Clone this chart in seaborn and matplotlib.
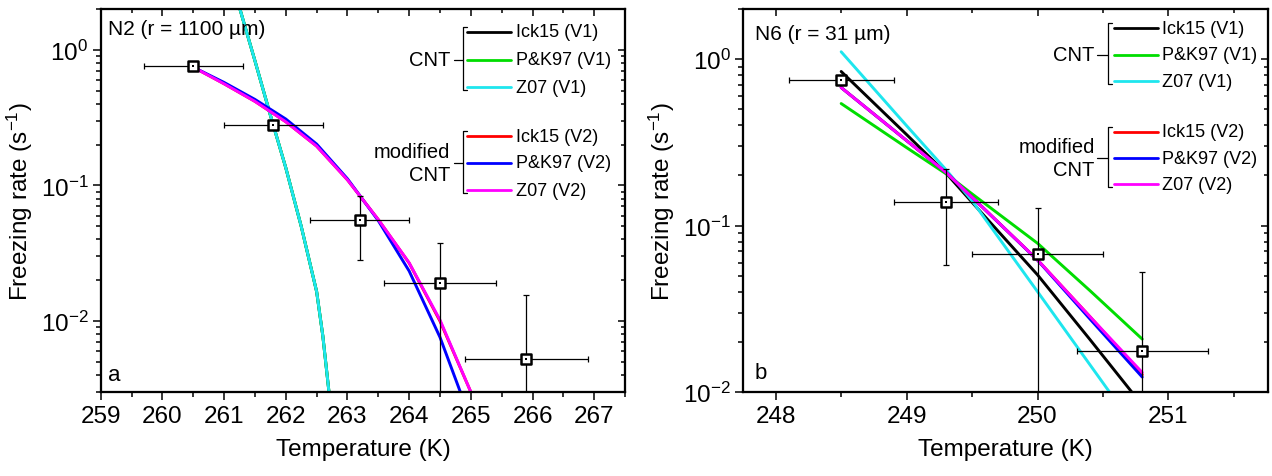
import numpy as np
import matplotlib
matplotlib.use("Agg")
import matplotlib.pyplot as plt
import seaborn as sns
from matplotlib.ticker import LogLocator, MultipleLocator, NullFormatter

# --- Panel a: N2 (r = 1100 um), measured freezing rates ---
a_temp = [260.5, 261.8, 263.2, 264.5, 265.9]
a_rate = [0.765, 0.279, 0.0557, 0.0192, 0.00527]
a_xerr = [0.8, 0.8, 0.8, 0.9, 1.0]
a_ylow = [0.765, 0.279, 0.0282, 1e-4, 1e-4]     # lower end of y error bar
a_yhigh = [0.765, 0.279, 0.083, 0.0377, 0.0155]  # upper end of y error bar

# CNT (V1) curves, panel a (the three models coincide)
a_v1_temp = [261.2, 261.5, 261.75, 262.0, 262.25, 262.5, 262.6, 262.7]
a_ick_v1 = [2.45, 0.83, 0.33, 0.135, 0.050, 0.0165, 0.0078, 0.0030]
a_pk_v1 = [2.45, 0.83, 0.33, 0.135, 0.050, 0.0165, 0.0078, 0.0030]
a_z_v1 = [2.45, 0.83, 0.33, 0.135, 0.050, 0.0165, 0.0078, 0.0030]

# modified CNT (V2) curves, panel a
a_v2_temp = [260.5, 261.0, 261.5, 262.0, 262.5, 263.0, 263.5, 264.0, 264.5, 265.0]
a_pk_v2_temp = [260.5, 261.0, 261.5, 262.0, 262.5, 263.0, 263.5, 264.0, 264.5, 264.83]
a_ick_v2 = [0.745, 0.562, 0.417, 0.295, 0.195, 0.110, 0.056, 0.0268, 0.0100, 0.0030]
a_pk_v2 = [0.745, 0.575, 0.431, 0.309, 0.202, 0.112, 0.055, 0.0234, 0.0076, 0.0030]
a_z_v2 = [0.745, 0.562, 0.417, 0.295, 0.195, 0.110, 0.056, 0.0269, 0.0102, 0.0030]

# --- Panel b: N6 (r = 31 um) ---
b_temp = [248.5, 249.3, 250.0, 250.8]
b_rate = [0.747, 0.139, 0.0673, 0.0177]
b_xerr = [0.4, 0.4, 0.5, 0.5]
b_ylow = [0.747, 0.058, 1e-4, 1e-4]
b_yhigh = [0.747, 0.220, 0.1275, 0.0524]

b_ick_v1_temp = [248.5, 249.0, 249.3, 249.5, 250.0, 250.4, 250.72]
b_ick_v1 = [0.843, 0.352, 0.207, 0.138, 0.0506, 0.0207, 0.010]
b_pk_v1_temp = [248.5, 249.0, 249.3, 249.5, 250.0, 250.4, 250.8]
b_pk_v1 = [0.541, 0.294, 0.205, 0.155, 0.0783, 0.0407, 0.0208]
b_z_v1_temp = [248.5, 249.0, 249.3, 249.5, 250.0, 250.55]
b_z_v1 = [1.107, 0.398, 0.217, 0.141, 0.0401, 0.010]

b_v2_temp = [248.5, 249.0, 249.3, 249.5, 250.0, 250.4, 250.8]
b_ick_v2 = [0.675, 0.324, 0.209, 0.148, 0.0622, 0.0284, 0.0127]
b_pk_v2 = [0.675, 0.324, 0.209, 0.148, 0.0620, 0.0275, 0.0123]
b_z_v2 = [0.675, 0.324, 0.209, 0.148, 0.0622, 0.0284, 0.0131]

model_labels_v1 = ["Ick15 (V1)", "P&K97 (V1)", "Z07 (V1)"]
model_labels_v2 = ["Ick15 (V2)", "P&K97 (V2)", "Z07 (V2)"]
colors_v1 = ["black", "#00dd00", "#1ee6ee"]
colors_v2 = ["#ff0000", "#0000ff", "#ff00ff"]

sns.set_theme(style="ticks")
plt.rcParams["font.family"] = ["Liberation Sans", "DejaVu Sans"]
plt.rcParams["mathtext.fontset"] = "custom"
plt.rcParams["mathtext.rm"] = "Liberation Sans"
plt.rcParams["mathtext.it"] = "Liberation Sans:italic"
plt.rcParams["mathtext.bf"] = "Liberation Sans:bold"
plt.rcParams["text.color"] = "black"
plt.rcParams["axes.labelcolor"] = "black"

fig = plt.figure(figsize=(12.72, 4.77), dpi=100)
ax_a = fig.add_axes([0.0792, 0.176, 0.4122, 0.803])
ax_b = fig.add_axes([0.5841, 0.176, 0.4127, 0.803])


def style_axes(ax, xlim, ylim):
    ax.set_yscale("log")
    ax.set_xlim(*xlim)
    ax.set_ylim(*ylim)
    ax.xaxis.set_major_locator(MultipleLocator(1))
    ax.xaxis.set_minor_locator(MultipleLocator(0.5))
    ax.yaxis.set_major_locator(LogLocator(base=10, numticks=10))
    ax.yaxis.set_minor_locator(LogLocator(base=10, subs=np.arange(2, 10), numticks=10))
    ax.yaxis.set_minor_formatter(NullFormatter())
    ax.tick_params(which="both", direction="out", width=1.1, color="black",
                   labelsize=17.5, labelcolor="black", pad=3)
    ax.tick_params(which="major", length=6)
    ax.tick_params(which="minor", length=3.5)
    for s in ax.spines.values():
        s.set_linewidth(1.5)
        s.set_color("black")
    ax.set_xlabel("Temperature (K)", fontsize=17.5, color="black", labelpad=8)
    ax.set_ylabel("Freezing rate (s$^{-1}$)", fontsize=17.5, color="black", labelpad=4)

    # inward ticks on top and right, no labels
    top = ax.twiny()
    top.set_xlim(*xlim)
    top.xaxis.set_major_locator(MultipleLocator(1))
    top.xaxis.set_minor_locator(MultipleLocator(0.5))
    top.tick_params(axis="x", which="both", direction="in", top=True, bottom=False,
                    labeltop=False, labelbottom=False, width=1.1, color="black")
    top.tick_params(axis="x", which="major", length=5)
    top.tick_params(axis="x", which="minor", length=3)
    right = ax.twinx()
    right.set_yscale("log")
    right.set_ylim(*ylim)
    right.yaxis.set_major_locator(LogLocator(base=10, numticks=10))
    right.yaxis.set_minor_locator(LogLocator(base=10, subs=np.arange(2, 10), numticks=10))
    right.yaxis.set_minor_formatter(NullFormatter())
    right.tick_params(axis="y", which="both", direction="in", right=True, left=False,
                      labelright=False, labelleft=False, width=1.1, color="black")
    right.tick_params(axis="y", which="major", length=5)
    right.tick_params(axis="y", which="minor", length=3)
    for t in (top, right):
        for s in t.spines.values():
            s.set_linewidth(1.5)
            s.set_color("black")


def draw_points(ax, temp, rate, xerr, ylow, yhigh):
    yerr = [np.array(rate) - np.array(ylow), np.array(yhigh) - np.array(rate)]
    ax.errorbar(temp, rate, xerr=xerr, yerr=yerr, fmt="none", ecolor="black",
                elinewidth=0.9, capsize=2.5, capthick=0.9, zorder=4)
    sns.scatterplot(x=temp, y=rate, marker="s", s=50, facecolor="white",
                    edgecolor="black", linewidth=1.8, zorder=6, ax=ax, legend=False)
    sns.scatterplot(x=temp, y=rate, marker="s", s=3, color="black",
                    linewidth=0, zorder=7, ax=ax, legend=False)


def draw_curve(ax, temp, rate, color):
    sns.lineplot(x=temp, y=rate, color=color, linewidth=2.1, estimator=None,
                 sort=False, legend=False, ax=ax, zorder=3)


def bracket_legend(ax, rows, labels, colors, group, x_br, x_l0, x_l1, x_txt, x_tick, x_grp):
    kw = dict(transform=ax.transAxes, clip_on=False)
    for y, lab, c in zip(rows, labels, colors):
        ax.plot([x_l0, x_l1], [y, y], color=c, lw=2.0, **kw)
        ax.text(x_txt, y, lab, fontsize=13, va="center", ha="left", **kw)
    top, bot = rows[0] + 0.013, rows[-1] - 0.008
    ax.plot([x_br + 0.008, x_br, x_br, x_br + 0.008], [top, top, bot, bot],
            color="black", lw=0.9, **kw)
    ax.plot([x_tick, x_br], [rows[1], rows[1]], color="black", lw=0.9, **kw)
    ax.text(x_grp, rows[1], group, fontsize=14.5, va="center", ha="right",
            multialignment="right", linespacing=1.25, **kw)


# ---- panel a ----
style_axes(ax_a, (259, 267.5), (0.003, 2.0))
draw_curve(ax_a, a_v1_temp, a_ick_v1, colors_v1[0])
draw_curve(ax_a, a_v1_temp, a_pk_v1, colors_v1[1])
draw_curve(ax_a, a_v1_temp, a_z_v1, colors_v1[2])
draw_curve(ax_a, a_v2_temp, a_ick_v2, colors_v2[0])
draw_curve(ax_a, a_pk_v2_temp, a_pk_v2, colors_v2[1])
draw_curve(ax_a, a_v2_temp, a_z_v2, colors_v2[2])
draw_points(ax_a, a_temp, a_rate, a_xerr, a_ylow, a_yhigh)
ax_a.text(0.014, 0.95, "N2 (r = 1100 µm)", transform=ax_a.transAxes, fontsize=15,
          va="center", ha="left")
ax_a.text(0.014, 0.047, "a", transform=ax_a.transAxes, fontsize=16, va="center", ha="left")
bracket_legend(ax_a, [0.940, 0.867, 0.796], model_labels_v1, colors_v1, "CNT",
               0.691, 0.699, 0.783, 0.792, 0.674, 0.666)
bracket_legend(ax_a, [0.668, 0.598, 0.527], model_labels_v2, colors_v2, "modified\nCNT",
               0.691, 0.699, 0.783, 0.792, 0.674, 0.666)

# ---- panel b ----
style_axes(ax_b, (247.75, 251.76), (0.01, 2.0))
draw_curve(ax_b, b_ick_v1_temp, b_ick_v1, colors_v1[0])
draw_curve(ax_b, b_pk_v1_temp, b_pk_v1, colors_v1[1])
draw_curve(ax_b, b_z_v1_temp, b_z_v1, colors_v1[2])
draw_curve(ax_b, b_v2_temp, b_ick_v2, colors_v2[0])
draw_curve(ax_b, b_v2_temp, b_pk_v2, colors_v2[1])
draw_curve(ax_b, b_v2_temp, b_z_v2, colors_v2[2])
draw_points(ax_b, b_temp, b_rate, b_xerr, b_ylow, b_yhigh)
ax_b.text(0.023, 0.935, "N6 (r = 31 µm)", transform=ax_b.transAxes, fontsize=15,
          va="center", ha="left")
ax_b.text(0.023, 0.052, "b", transform=ax_b.transAxes, fontsize=16, va="center", ha="left")
bracket_legend(ax_b, [0.950, 0.880, 0.812], model_labels_v1, colors_v1, "CNT",
               0.695, 0.707, 0.790, 0.798, 0.674, 0.670)
bracket_legend(ax_b, [0.679, 0.611, 0.543], model_labels_v2, colors_v2, "modified\nCNT",
               0.695, 0.707, 0.790, 0.798, 0.674, 0.670)

fig.savefig("out.png", dpi=100)
